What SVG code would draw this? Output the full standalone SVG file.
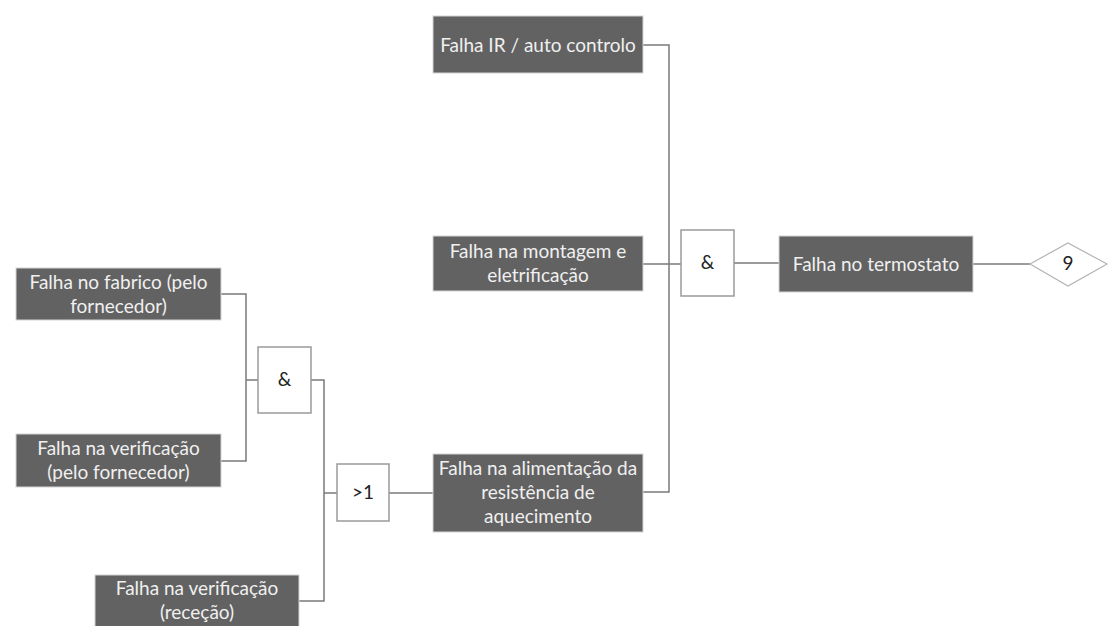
<svg xmlns="http://www.w3.org/2000/svg" width="1114" height="626" viewBox="0 0 1114 626">
  <style>
    .ev rect { fill: #626262; stroke: #d4d4d4; stroke-width: 1; }
    .ev text { fill: #f0f0f0; font-family: Lato, "Liberation Sans", sans-serif; font-size: 19px; text-anchor: middle; }
    .gate rect { fill: #ffffff; stroke: #9a9a9a; stroke-width: 1.5; }
    .gate text { fill: #222222; font-family: Lato, "Liberation Sans", sans-serif; font-size: 19px; text-anchor: middle; }
    .res polygon { fill: #ffffff; stroke: #b4b4b4; stroke-width: 1.2; }
    .res text { fill: #222222; font-family: Lato, "Liberation Sans", sans-serif; font-size: 19px; text-anchor: middle; }
    #connectors path { fill: none; stroke: #7a7a7a; stroke-width: 1.5; }
  </style>
  <rect width="1114" height="626" fill="#ffffff"/>

  <g id="connectors">
    <!-- fabrico / verificação into the lower AND gate -->
    <path d="M221,294 H246 V461 H221"/>
    <path d="M246,380 H258"/>
    <!-- AND gate and receção into the OR gate -->
    <path d="M311,380 H324 V601 H299"/>
    <path d="M324,493 H337"/>
    <!-- OR gate to power-supply failure -->
    <path d="M389,493 H433"/>
    <!-- three causes into the upper AND gate -->
    <path d="M643,45 H669 V492 H643"/>
    <path d="M643,264 H681"/>
    <!-- upper AND gate to thermostat failure, then to result -->
    <path d="M734,263 H779"/>
    <path d="M973,264 H1030"/>
  </g>

  <g id="ir-auto" class="ev">
    <rect x="433" y="16" width="210" height="57"/>
    <text x="538" y="52">Falha IR / auto controlo</text>
  </g>

  <g id="montagem" class="ev">
    <rect x="433" y="236" width="210" height="55"/>
    <text x="538" y="258">Falha na montagem e</text>
    <text x="538" y="282">eletrificação</text>
  </g>

  <g id="alimentacao" class="ev">
    <rect x="433" y="454" width="210" height="78"/>
    <text x="538" y="475">Falha na alimentação da</text>
    <text x="538" y="499">resistência de</text>
    <text x="538" y="523">aquecimento</text>
  </g>

  <g id="fabrico" class="ev">
    <rect x="16" y="268" width="205" height="52"/>
    <text x="118.5" y="289">Falha no fabrico (pelo</text>
    <text x="118.5" y="313">fornecedor)</text>
  </g>

  <g id="verif-fornecedor" class="ev">
    <rect x="16" y="434" width="205" height="53"/>
    <text x="118.5" y="455">Falha na verificação</text>
    <text x="118.5" y="479">(pelo fornecedor)</text>
  </g>

  <g id="verif-rececao" class="ev">
    <rect x="95" y="575" width="204" height="53"/>
    <text x="197" y="595">Falha na verificação</text>
    <text x="197" y="619">(receção)</text>
  </g>

  <g id="termostato" class="ev">
    <rect x="779" y="236" width="194" height="56"/>
    <text x="876" y="271">Falha no termostato</text>
  </g>

  <g id="and-lower" class="gate">
    <rect x="258" y="347" width="53" height="66"/>
    <text x="284.5" y="386">&amp;</text>
  </g>

  <g id="or-gate" class="gate">
    <rect x="337" y="464" width="52" height="57"/>
    <text x="363" y="499">&gt;1</text>
  </g>

  <g id="and-upper" class="gate">
    <rect x="681" y="230" width="53" height="66"/>
    <text x="707.5" y="269">&amp;</text>
  </g>

  <g id="result" class="res">
    <polygon points="1030,264 1068,243 1107,264 1068,286"/>
    <text x="1068" y="270">9</text>
  </g>
</svg>
